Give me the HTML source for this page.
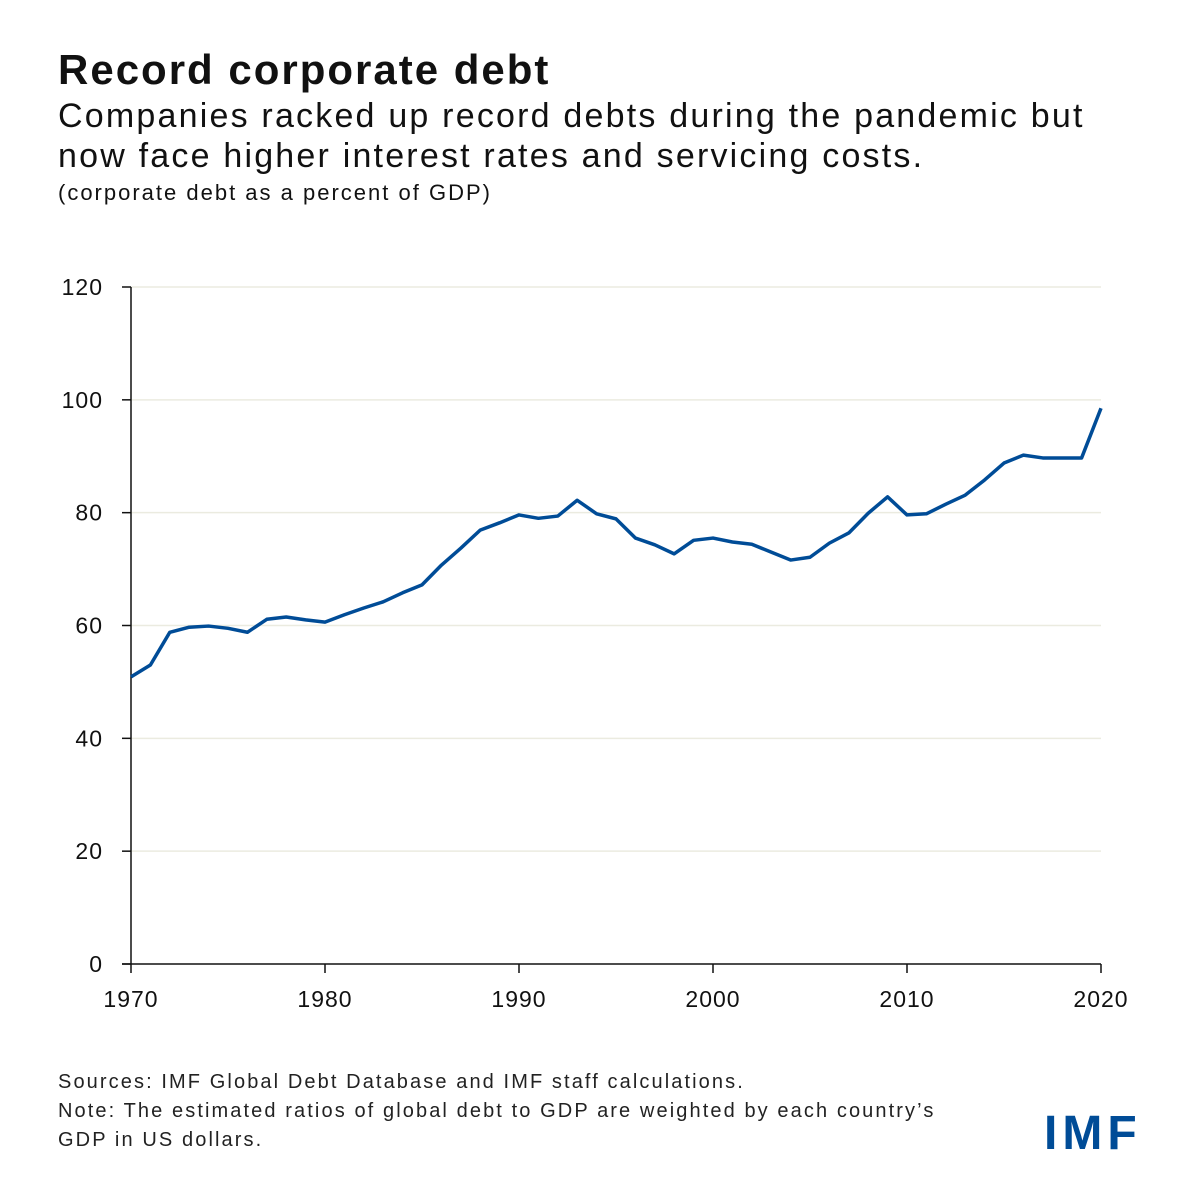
<!DOCTYPE html>
<html><head><meta charset="utf-8"><style>
body{margin:0;background:#fff;font-family:"Liberation Sans",sans-serif;}
.wrap{position:relative;width:1200px;height:1200px;overflow:hidden;}
.t{position:absolute;left:58px;white-space:nowrap;color:#111;}
</style></head><body>
<div class="wrap">
<div class="t" style="top:46px;font-size:42px;font-weight:bold;letter-spacing:2px;">Record corporate debt</div>
<div class="t" style="top:96px;font-size:34px;line-height:40px;letter-spacing:2.2px;">Companies racked up record debts during the pandemic but<br>now face higher interest rates and servicing costs.</div>
<div class="t" style="top:180px;font-size:22px;letter-spacing:2px;">(corporate debt as a percent of GDP)</div>
<svg width="1200" height="1200" style="position:absolute;left:0;top:0">
<g id="grid"></g><g id="axes"></g><g id="series"></g>
</svg>
<div class="t" style="top:1068px;font-size:20px;line-height:29px;color:#222;letter-spacing:2.1px;">Sources: IMF Global Debt Database and IMF staff calculations.<br>Note: The estimated ratios of global debt to GDP are weighted by each country’s<br>GDP in US dollars.</div>
<div style="position:absolute;left:1044px;top:1106px;font-size:48px;font-weight:bold;color:#004c97;letter-spacing:5px;">IMF</div>
</div>
<script>
const years=[1970,1971,1972,1973,1974,1975,1976,1977,1978,1979,1980,1981,1982,1983,1984,1985,1986,1987,1988,1989,1990,1991,1992,1993,1994,1995,1996,1997,1998,1999,2000,2001,2002,2003,2004,2005,2006,2007,2008,2009,2010,2011,2012,2013,2014,2015,2016,2017,2018,2019,2020];
const debt=[50.9,53,58.8,59.7,59.9,59.5,58.8,61.1,61.5,61,60.6,61.9,63.1,64.2,65.8,67.2,70.7,73.7,76.9,78.2,79.6,79,79.4,82.2,79.8,78.9,75.5,74.3,72.7,75.1,75.5,74.8,74.4,73,71.6,72.1,74.6,76.4,79.9,82.8,79.6,79.8,81.5,83.1,85.8,88.8,90.2,89.7,89.7,89.7,98.5];
const yTicks=[0,20,40,60,80,100,120];
const xTicks=[1970,1980,1990,2000,2010,2020];
const NS='http://www.w3.org/2000/svg';
const X=v=>131+(v-1970)*(1101-131)/50;
const Y=v=>964-v*(964-287)/120;
function mk(tag,attrs,parent){const e=document.createElementNS(NS,tag);for(const k in attrs)e.setAttribute(k,attrs[k]);document.getElementById(parent).appendChild(e);return e;}
yTicks.forEach(v=>{
 if(v>0){const g=mk('line',{x1:131,x2:1101,y1:Y(v),y2:Y(v),stroke:'#ebebe0','stroke-width':1.5},'grid');
 
 }
 const tk=mk('line',{x1:122,x2:131,y1:Y(v),y2:Y(v),stroke:'#111','stroke-width':1.5},'axes');
 
 
 const t=mk('text',{x:103,y:Y(v)+8,'text-anchor':'end','font-size':23,'letter-spacing':1,fill:'#111','font-family':'Liberation Sans, sans-serif'},'axes');
 t.textContent=v;
 
 
});
xTicks.forEach(v=>{
 const tk=mk('line',{x1:X(v),x2:X(v),y1:964,y2:973,stroke:'#111','stroke-width':1.5},'axes');
 
 
 const t=mk('text',{x:X(v),y:1007,'text-anchor':'middle','font-size':23,'letter-spacing':1,fill:'#111','font-family':'Liberation Sans, sans-serif'},'axes');
 t.textContent=v;
 
 
});
const ya=mk('line',{x1:131,x2:131,y1:287,y2:964,stroke:'#111','stroke-width':1.5},'axes');


const xa=mk('line',{x1:122,x2:1101,y1:964,y2:964,stroke:'#111','stroke-width':1.5},'axes');


const p=mk('polyline',{points:years.map((y,i)=>X(y)+','+Y(debt[i])).join(' '),fill:'none',stroke:'#004c97','stroke-width':3.5,'stroke-linejoin':'round'},'series');


</script>
</body></html>
